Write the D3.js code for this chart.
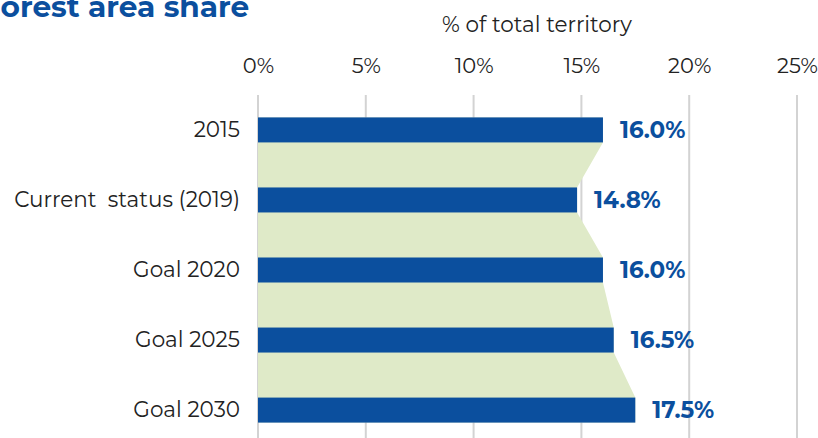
<!DOCTYPE html>
<html>
<head>
<meta charset="utf-8">
<script src="https://cdn.jsdelivr.net/npm/d3@7"></script>
<style>
  html, body { margin: 0; padding: 0; background: #fff; }
  svg { display: block; }
  text { white-space: pre; }
</style>
</head>
<body>
<div id="chart"></div>
<script>
// Forest area share, % of total territory
const categories = ["2015", "Current  status (2019)", "Goal 2020", "Goal 2025", "Goal 2030"];
const values = [16.0, 14.8, 16.0, 16.5, 17.5];
const tickValues = [0, 5, 10, 15, 20, 25];

const W = 818, H = 438;
const fontFamily = "Montserrat, Lato, 'Noto Sans', sans-serif";
const blue = "#0b4f9e";
const green = "#dfeac8";

const svg = d3.select("#chart").append("svg")
  .attr("width", W).attr("height", H);

const x = d3.scaleLinear().domain([0, 25]).range([258, 797]);
const y = d3.scaleBand().domain(categories).range([95, 445]).paddingInner(0.643).paddingOuter(0.32);

// gridlines
svg.append("g").selectAll("line").data(tickValues).join("line")
  .attr("x1", d => x(d)).attr("x2", d => x(d))
  .attr("y1", 95).attr("y2", H)
  .attr("stroke", "#d3d3d3").attr("stroke-width", 2);

// green band connecting bar ends
const pts = [];
categories.forEach((c, i) => {
  pts.push({ v: values[i], y: y(c) });
  pts.push({ v: values[i], y: y(c) + y.bandwidth() });
});
const area = d3.area()
  .x0(x(0)).x1(d => x(d.v))
  .y(d => d.y);
svg.append("path").datum(pts)
  .attr("d", area)
  .attr("fill", green);

// bars
svg.append("g").selectAll("rect").data(categories).join("rect")
  .attr("x", x(0))
  .attr("y", d => y(d))
  .attr("width", (d, i) => x(values[i]) - x(0))
  .attr("height", y.bandwidth())
  .attr("fill", blue);

// value labels
svg.append("g").selectAll("text").data(categories).join("text")
  .attr("x", (d, i) => x(values[i]) + 17)
  .attr("y", d => y(d) + y.bandwidth() / 2)
  .attr("dy", "0.36em")
  .attr("font-family", fontFamily)
  .attr("font-weight", 700)
  .attr("font-size", 23)
  .attr("fill", blue)
  .text((d, i) => values[i].toFixed(1) + "%");

// category axis
const yAxis = d3.axisLeft(y).tickSize(0).tickPadding(0);
svg.append("g").attr("transform", "translate(240,0)").call(yAxis)
  .call(g => g.select(".domain").remove())
  .call(g => g.selectAll("text")
    .attr("font-family", fontFamily)
    .attr("font-size", 21.5)
    .attr("fill", "#222"));

// value axis on top
const xAxis = d3.axisTop(x).tickValues(tickValues).tickFormat(d => d + "%").tickSize(0).tickPadding(0);
svg.append("g").attr("transform", "translate(0,73)").call(xAxis)
  .call(g => g.select(".domain").remove())
  .call(g => g.selectAll("text")
    .attr("font-family", fontFamily)
    .attr("font-size", 21)
    .attr("fill", "#222"));

// axis title
svg.append("text")
  .attr("x", 537).attr("y", 32)
  .attr("text-anchor", "middle")
  .attr("font-family", fontFamily)
  .attr("font-size", 21.5)
  .attr("fill", "#222")
  .text("% of total territory");

// chart title
svg.append("text")
  .attr("x", -18).attr("y", 17)
  .attr("font-family", fontFamily)
  .attr("font-weight", 700)
  .attr("font-size", 29.6)
  .attr("fill", blue)
  .text("Forest area share");
</script>
</body>
</html>
